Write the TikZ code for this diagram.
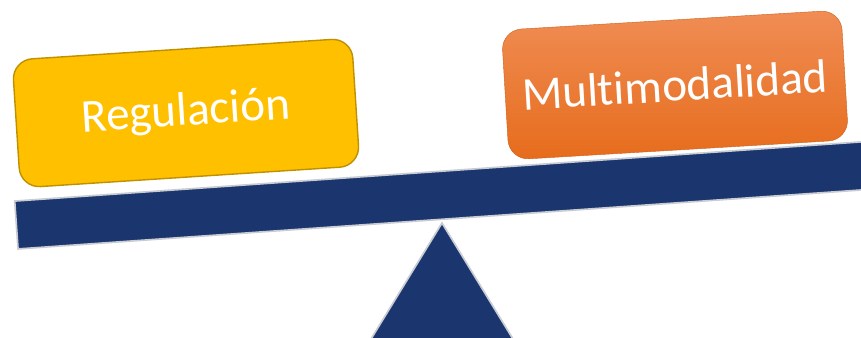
\documentclass[tikz,border=0pt]{standalone}
\usepackage{fontspec}
\setmainfont{Carlito}[Ligatures=NoCommon]
\usetikzlibrary{calc}
\definecolor{bnavy}{HTML}{1B366E}
\definecolor{bgold}{HTML}{FFC000}
\definecolor{bgoldline}{HTML}{BF9000}
\definecolor{borangetop}{HTML}{F08D55}
\definecolor{borangebot}{HTML}{E66C1C}
\definecolor{bedge}{HTML}{C9CDD3}
\tikzset{
  plate/.style={rounded corners=0.5cm,minimum width=8.5cm,align=center,text=white,
    font=\fontsize{33.5}{38}\selectfont,inner sep=0pt},
  goldplate/.style={plate,fill=bgold,draw=bgoldline,line width=1pt,minimum height=3.2cm},
  orangeplate/.style={plate,top color=borangetop,bottom color=borangebot,draw=borangebot!90!black,
    line width=0.3pt,minimum height=3.25cm},
  bar/.style={fill=bnavy,draw=bedge,line width=1.2pt,inner sep=0pt},
}
\begin{document}
\begin{tikzpicture}[x=0.025cm,y=-0.025cm]
  \useasboundingbox (0,0) rectangle (861,337);
  \clip (0,0) rectangle (861,337);
  % fulcro
  \coordinate (apex) at (442,223);
  \draw[bar] (apex) -- ($(apex)+(-82,134)$) -- ($(apex)+(82,134)$) -- cycle;
  % barra inclinada
  \node[bar,minimum width=22.5cm,minimum height=1.2cm,rotate=4] (beam) at (465.4,193.6) {};
  % platillos
  \node[goldplate,rotate=3.7] (reg) at (186,113) {Regulación};
  \node[orangeplate,rotate=3.4] (multi) at (675,85) {Multimodalidad};
\end{tikzpicture}
\end{document}
